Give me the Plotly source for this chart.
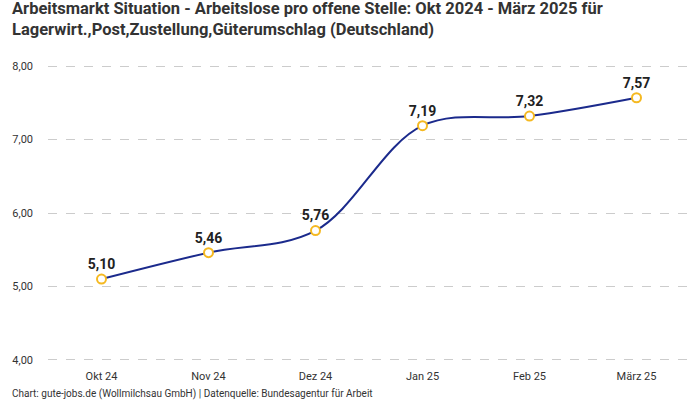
import plotly.graph_objects as go

months = ["Okt 24", "Nov 24", "Dez 24", "Jan 25", "Feb 25", "März 25"]
values = [5.10, 5.46, 5.76, 7.19, 7.32, 7.57]
y_ticks = [4, 5, 6, 7, 8]
y_tick_labels = ["4,00", "5,00", "6,00", "7,00", "8,00"]

labels = [f"{v:.2f}".replace(".", ",") for v in values]

fig = go.Figure()
fig.add_trace(go.Scatter(
    x=months, y=values,
    mode="lines+markers+text",
    line=dict(color="#1b2a8c", width=2, shape="spline", smoothing=1.0),
    marker=dict(size=9, color="white", line=dict(color="#f5b921", width=2)),
    text=labels, textposition="top center",
    textfont=dict(size=14, color="#222222", family="Roboto", weight="bold"),
    cliponaxis=False,
    hoverinfo="skip",
))

title_text = ("<b>Arbeitsmarkt Situation - Arbeitslose pro offene Stelle: Okt 2024 - März 2025 für<br>"
              "Lagerwirt.,Post,Zustellung,Güterumschlag (Deutschland)</b>")

PH = 400 - 64 - 38

fig.update_layout(
    width=700, height=400,
    margin=dict(l=48, r=10, t=64, b=38),
    paper_bgcolor="white", plot_bgcolor="white",
    font=dict(family="Roboto", color="#333333"),
    showlegend=False,
    xaxis=dict(
        type="category", range=[-0.5, 5.5],
        showgrid=False, showline=False, zeroline=False,
        tickfont=dict(size=11, color="#333333"), ticks="",
        ticklabelstandoff=6,
    ),
    yaxis=dict(
        range=[3.97, 8.03], tickvals=y_ticks, ticktext=y_tick_labels,
        showgrid=True, gridcolor="#cccccc", griddash="dash", gridwidth=1,
        zeroline=False, showline=False,
        tickfont=dict(size=11, color="#333333"), ticks="",
        ticklabelstandoff=14,
    ),
    annotations=[
        dict(
            text=title_text, xref="paper", yref="paper",
            x=(10 - 48) / 642, y=1 + 67 / PH, xanchor="left", yanchor="top",
            align="left", showarrow=False,
            font=dict(size=16.5, color="#333333", family="Roboto"),
        ),
        dict(
            text="Chart: gute-jobs.de (Wollmilchsau GmbH) | Datenquelle: Bundesagentur für Arbeit",
            xref="paper", yref="paper", x=(10 - 48) / 642, y=-24 / PH, xanchor="left", yanchor="top",
            showarrow=False, font=dict(size=10, color="#333333"),
        ),
    ],
)

fig.write_html("out.html", config={"displayModeBar": False},
               post_script="document.body.style.margin='0';")
